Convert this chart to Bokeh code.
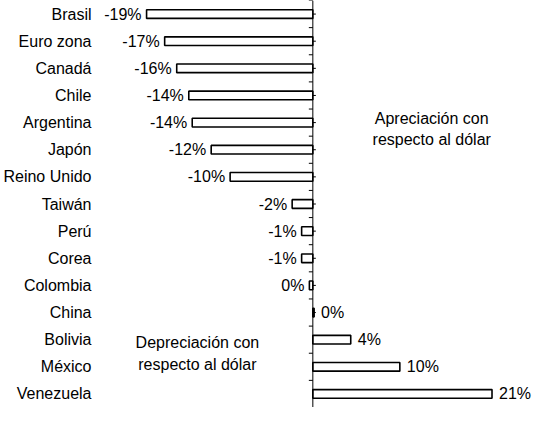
import math
from bokeh.plotting import figure
from bokeh.models import Range1d, LinearAxis, FixedTicker, Label, ColumnDataSource, Span
from bokeh.embed import file_html
from bokeh.resources import INLINE

countries = ["Brasil", "Euro zona", "Canadá", "Chile", "Argentina", "Japón",
             "Reino Unido", "Taiwán", "Perú", "Corea", "Colombia", "China",
             "Bolivia", "México", "Venezuela"]
changes = [-19.3, -17.2, -15.8, -14.4, -14.0, -11.8, -9.6, -2.4, -1.3, -1.3,
           -0.4, 0.15, 4.4, 10.1, 20.8]
value_labels = ["-19%", "-17%", "-16%", "-14%", "-14%", "-12%", "-10%", "-2%",
                "-1%", "-1%", "0%", "0%", "4%", "10%", "21%"]

FONT = "Liberation Sans"
FS = "16px"

idx = list(range(len(countries)))
bounds = [i - 0.5 for i in range(len(countries) + 1)]

p = figure(width=532, height=407, x_range=Range1d(-24.3, 25.5),
           y_range=Range1d(len(countries) - 0.5, -0.5),
           output_backend="svg", toolbar_location=None,
           x_axis_location=None, y_axis_location=None,
           min_border=0, outline_line_color=None, background_fill_color="white")
p.xgrid.visible = False
p.ygrid.visible = False

name_axis = LinearAxis(ticker=FixedTicker(ticks=idx, minor_ticks=[]),
                       major_label_overrides={i: c for i, c in enumerate(countries)},
                       axis_line_color=None, major_tick_line_color=None,
                       minor_tick_line_color=None, major_label_standoff=6,
                       major_label_text_font=FONT, major_label_text_font_size=FS,
                       major_label_text_color="black")
p.add_layout(name_axis, "left")

# value axis line at zero with category ticks
p.add_layout(Span(location=0, dimension="height", line_color="black", line_width=1))
p.ray(x=[0] * len(bounds), y=bounds, length=4, length_units="screen", angle=math.pi,
      line_color="black", line_width=1)
p.ray(x=[0] * len(idx), y=idx, length=3, length_units="screen", angle=0,
      line_color="black", line_width=1)

src = ColumnDataSource(dict(y=idx, v=changes, lab=value_labels))
p.hbar(y="y", left=0, right="v", height=0.32, source=src,
       fill_color="white", line_color="black", line_width=1.6)

neg = ColumnDataSource(dict(y=[i for i in idx if changes[i] < 0],
                            v=[c for c in changes if c < 0],
                            lab=[value_labels[i] for i in idx if changes[i] < 0]))
pos = ColumnDataSource(dict(y=[i for i in idx if changes[i] >= 0],
                            v=[c for c in changes if c >= 0],
                            lab=[value_labels[i] for i in idx if changes[i] >= 0]))
p.text(x="v", y="y", text="lab", source=neg, x_offset=-5, text_align="right",
       text_baseline="middle", text_font={"value": FONT}, text_font_size=FS,
       text_color="black")
p.text(x="v", y="y", text="lab", source=pos, x_offset=7, text_align="left",
       text_baseline="middle", text_font={"value": FONT}, text_font_size=FS,
       text_color="black")

for x, y, t in [(13.8, 3.85, "Apreciación con"), (13.8, 4.64, "respecto al dólar"),
                (-13.4, 12.12, "Depreciación con"), (-13.4, 12.91, "respecto al dólar")]:
    p.add_layout(Label(x=x, y=y, text=t, text_align="center", text_baseline="middle",
                       text_font=FONT, text_font_size=FS, text_color="black"))

open("out.html", "w").write(file_html(p, INLINE))
